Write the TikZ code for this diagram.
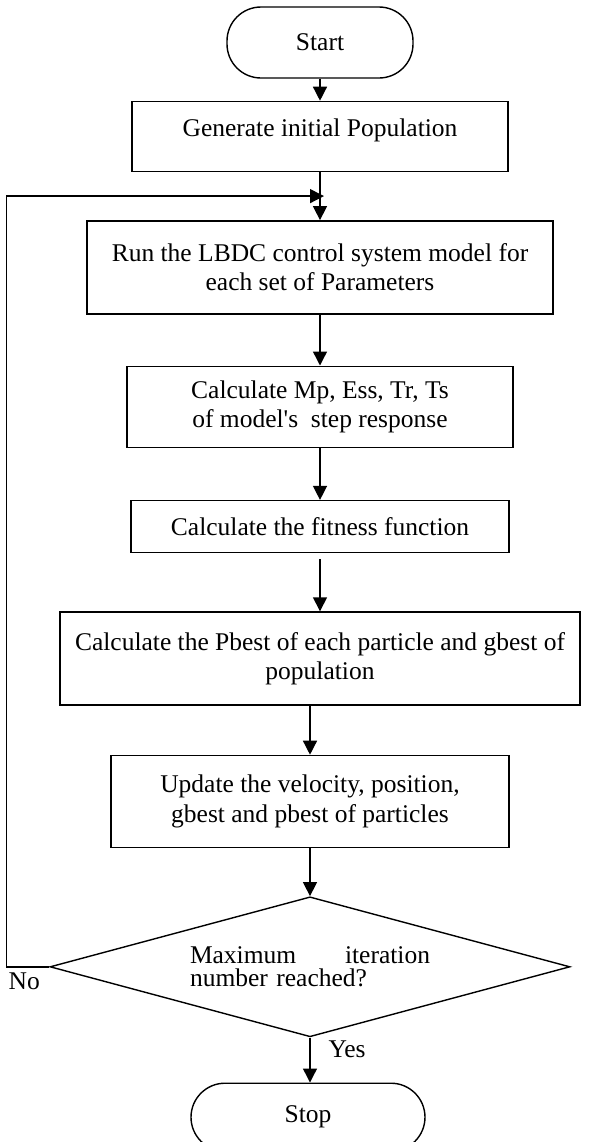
\documentclass[tikz,border=0pt]{standalone}
\usepackage{fontspec}
\setmainfont{Liberation Serif}
\usetikzlibrary{arrows.meta, positioning, shapes.geometric, calc}
\definecolor{linecol}{RGB}{0,0,0}
\tikzset{
  every node/.style={font=\fontsize{12.75}{14.75}\selectfont},
  term/.style={rectangle, rounded corners=17pt, draw=linecol,
    line width=0.7pt, minimum width=93pt, minimum height=35.5pt, align=center},
  proc/.style={rectangle, draw=linecol, line width=0.7pt,
    align=center, inner sep=2pt},
  decide/.style={diamond, draw=linecol, line width=0.7pt, aspect=3.7,
    inner sep=0pt, minimum width=260pt, minimum height=70pt},
  arr/.style={-{Triangle[length=7pt, width=7pt]}, line width=0.7pt, color=linecol},
}
\begin{document}
\begin{tikzpicture}
  \useasboundingbox (0,0) rectangle (297.5pt,-571pt);

  \node[term] (start) at (160pt,-21.25pt) {Start};

  \node[proc, minimum width=188pt, minimum height=35pt,
        text height=9pt, text depth=9pt,
        below=11pt of start] (gen) {Generate initial Population};

  \node[proc, minimum width=233pt, minimum height=46.5pt,
        below=24pt of gen] (run) {Run the LBDC control system model for\\each set of Parameters};

  \node[proc, minimum width=193pt, minimum height=40.5pt,
        below=25.5pt of run] (resp) {Calculate Mp, Ess, Tr, Ts\\of model\textquotesingle s\ \ step response};

  \node[proc, minimum width=189pt, minimum height=26pt,
        below=26pt of resp] (fit) {Calculate the fitness function};

  \node[proc, minimum width=260pt, minimum height=46.5pt,
        below=29pt of fit] (best) {Calculate the Pbest of each particle and gbest of\\population};

  \node[proc, minimum width=199pt, minimum height=46pt,
        below=24.5pt of best, xshift=-5pt] (upd) {Update the velocity, position,\\gbest and pbest of particles};

  \node[decide, text width=120pt, align=left,
        font=\fontsize{12.75}{11.75}\selectfont,
        below=24pt of upd] (dec) {Maximum\hfill iteration\\number reached?};

  \node[term, minimum width=117pt, minimum height=34pt,
        below=22.5pt of dec, xshift=-1pt] (stop) {Stop};

  % labels
  \node[anchor=west, xshift=6pt] (yes) at ($(dec.south)!0.27!(stop.north)$) {Yes};
  \node[anchor=north west, inner sep=1pt] (no) at ($(dec.west)+(-21.5pt,-2pt)$) {No};

  % main flow
  \draw[arr] (start) -- (gen);
  \draw[arr] (gen)   -- (run);
  \draw[arr] (run)   -- (resp);
  \draw[arr] (resp)  -- (fit);
  \draw[arr, shorten <=3pt] (fit) -- (best);
  \draw[arr] (best.south -| upd.north) -- (upd.north);
  \draw[arr] (upd)   -- (dec);
  \draw[arr] (dec.south) -- (dec.south |- stop.north);

  % loop back
  \coordinate (merge) at ($(gen.south)!0.5!(run.north)$);
  \draw[arr] (dec.west) -- ++(-21.5pt,0) |- ([xshift=2pt]merge);

\end{tikzpicture}
\end{document}
